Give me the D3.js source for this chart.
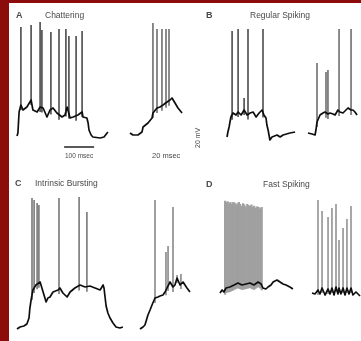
<!DOCTYPE html>
<html>
<head>
<meta charset="utf-8">
<script src="https://cdn.jsdelivr.net/npm/d3@7"></script>
<style>
  body { margin: 0; background: #fff; }
  text { font-family: "Liberation Sans", Arial, sans-serif; fill: #4a4a4a; }
</style>
</head>
<body>
<script>
// panel labels and titles
var panelLetters = ["A", "B", "C", "D"];
var panelTitles = ["Chattering", "Regular Spiking", "Intrinsic Bursting", "Fast Spiking"];

// traces: baseline [ms, mV], spikes [ms, peak mV]
// slow traces 100 msec scale, fast traces 20 msec scale
var chatSlowBase = [[0,-72.4],[3,-70],[7,-53.2],[13,-47.6],[20,-51.6],[33,-49.2],[47,-43.6],[53,-51.6],[67,-53.2],[77,-49.2],[87,-50],[100,-57.2],[110,-51.6],[120,-50],[133,-54],[150,-57.2],[160,-55.6],[167,-49.2],[177,-58],[187,-57.2],[203,-55.6],[217,-53.2],[220,-57.2],[233,-58],[237,-62],[240,-67.6],[247,-71.6],[253,-73.2],[277,-74],[290,-73.2],[303,-69.2]];
var chatSlowSpikes = [[13,14.8],[47,16.4],[77,18.8],[83,12.4],[113,10.8],[140,13.2],[163,13.2],[173,7.6],[197,7.6],[217,11.6]];
var chatFastBase = [[0,-70],[2,-71.6],[5.3,-71.6],[8,-69.2],[8.7,-65.2],[12,-62],[14.7,-58],[15.3,-54],[18,-50],[20,-49.2],[22,-47.6],[24.7,-45.2],[26.7,-43.6],[28,-42],[30,-46],[32,-50],[34.7,-54]];
var chatFastSpikes = [[15.3,18],[18,13.2],[21.3,13.2],[24,13.2],[26,13.2]];

var regSlowBase = [[0,-73.2],[3,-69.2],[7,-65.2],[13,-57.2],[20,-54],[30,-55.6],[37,-53.2],[47,-55.6],[57,-51.6],[67,-55.6],[77,-54],[87,-53.2],[97,-57.2],[107,-54],[117,-51.6],[123,-55.6],[130,-58],[133,-63.6],[137,-67.6],[143,-75.6],[150,-73.2],[167,-71.6],[177,-73.2],[187,-71.6],[210,-70],[227,-69.2]];
var regSlowSpikes = [[17,11.6],[37,13.2],[57,-42],[70,13.2],[120,13.2]];
var regFastBase = [[0,-70],[2.7,-70.8],[4.7,-71.6],[5.3,-67.6],[6,-61.2],[8,-55.6],[10,-54],[11.3,-53.2],[13.3,-54.8],[14.7,-54],[16.7,-54.8],[18,-55.6],[20,-51.6],[21.3,-53.2],[23.3,-54],[25.3,-51.6],[26.7,-50],[28.7,-51.6],[30,-51.6],[31.3,-53.2],[32.7,-55.6]];
var regFastSpikes = [[6,-14],[12,-21.2],[13.3,-19.6],[20.7,13.2],[28.7,13.2]];

var burstSlowBase = [[0,-71.6],[10,-70],[23,-69.2],[33,-67.6],[40,-62.8],[43,-54.8],[47,-48.4],[53,-40.4],[63,-36.4],[77,-34],[87,-42],[97,-50],[103,-46.8],[110,-46],[120,-42],[137,-40.4],[143,-38.8],[153,-42.8],[167,-46],[177,-42],[193,-38.8],[210,-36.4],[227,-38],[243,-37.2],[260,-38.8],[277,-40.4],[287,-36.4],[290,-38.8],[297,-53.2],[303,-58.8],[310,-62.8],[320,-66.8],[330,-70],[343,-70.8],[353,-70]];
var burstSlowSpikes = [[50,33.2],[57,31.6],[67,29.2],[73,27.6],[140,33.2],[207,34],[233,22]];
var burstFastBase = [[0,-71.6],[2,-70],[3.3,-68.4],[5.3,-60.4],[6.7,-56.4],[8,-52.4],[10,-46.8],[12,-46],[13.3,-45.2],[15.3,-44.4],[16.7,-42],[18,-38.8],[20,-34],[22,-38],[23.3,-36.4],[24.7,-30.8],[26.7,-36.4],[28.7,-34],[30,-36.4],[31.3,-38.8],[33.3,-42]];
var burstFastSpikes = [[10,31.6],[17.3,-10],[18.7,-5.2],[22,26],[24.7,-28.4],[27.3,-27.6]];

var fastSlowBase = [[0,-70.8],[7,-68.4],[13,-70],[20,-66.8],[33,-66],[47,-64.4],[60,-62.8],[73,-64.4],[87,-63.6],[100,-62.8],[113,-64.4],[127,-62],[137,-63.6],[143,-66.8],[153,-67.6],[160,-66],[170,-64.4],[177,-62],[190,-60.4],[200,-62],[210,-63.6],[220,-64.4],[233,-66],[243,-67.6]];
var fastSlowSpikes = [[17,3],[21,2],[26,2.5],[31,1],[35,2],[40,0.5],[44,2],[49,1.5],[54,0],[58,1],[63,2],[67,0.5],[72,-1],[77,1],[81,0],[86,-1.5],[91,0.5],[95,-0.5],[100,-1],[105,0],[109,-2],[114,-1],[119,-2.5],[124,-1.5],[129,-2],[134,-3],[139,-2]];
var fastFastBase = [[0,-70.8],[2,-71.6],[4,-68.4],[5.3,-71.6],[6.7,-66.8],[8.7,-72.4],[10.7,-67.6],[12,-71.6],[13.3,-66.8],[14.7,-72.4],[16,-66],[17.3,-71.6],[18,-66.8],[19.3,-71.6],[20.7,-66.8],[22,-72.4],[23.3,-66.8],[24.7,-71.6],[26,-66.8],[27.3,-72.4],[29.3,-70],[30.7,-71.6],[32,-73.2]];
var fastFastSpikes = [[4,3.6],[6.7,-5.2],[10.7,-10],[13.3,-2.8],[16,0.4],[18,-28.4],[20.7,-18.8],[23.3,-11.6],[26,-1.2]];

var W = 361, H = 341;

var svg = d3.select("body").append("svg")
    .attr("width", W)
    .attr("height", H);

svg.append("rect").attr("width", W).attr("height", H).attr("fill", "#fff");

// soft blur, the scan is not sharp
var blur = svg.append("defs").append("filter").attr("id", "soft")
  .attr("x", "-5%").attr("y", "-5%").attr("width", "110%").attr("height", "110%");
blur.append("feGaussianBlur").attr("stdDeviation", 0.45);

var content = svg.append("g").attr("filter", "url(#soft)");

// dark red frame on the left and top
svg.append("rect").attr("x", 0).attr("y", 0).attr("width", 9).attr("height", H).attr("fill", "#8c0b0b");
svg.append("rect").attr("x", 0).attr("y", 0).attr("width", W).attr("height", 3).attr("fill", "#8c0b0b");

var tSlow = d3.scaleLinear().domain([0, 100]).range([0, 30]);
var tFast = d3.scaleLinear().domain([0, 20]).range([0, 30]);
var v = d3.scaleLinear().domain([-70, 10]).range([0, -100]);

function baseAt(base, t) {
  var i = d3.bisector(function(d) { return d[0]; }).right(base, t);
  if (i <= 0) return base[0][1];
  if (i >= base.length) return base[base.length - 1][1];
  var a = base[i - 1], b = base[i];
  return a[1] + (b[1] - a[1]) * (t - a[0]) / (b[0] - a[0]);
}

function drawTrace(x0, y0, tScale, base, spikes, spikeColor, spikeWidth) {
  var g = content.append("g").attr("transform", "translate(" + x0 + "," + y0 + ")");
  g.selectAll("line").data(spikes).enter().append("line")
    .attr("x1", function(d) { return tScale(d[0]); })
    .attr("x2", function(d) { return tScale(d[0]); })
    .attr("y1", function(d) { return v(baseAt(base, d[0]) - 4); })
    .attr("y2", function(d) { return v(d[1]); })
    .attr("stroke", spikeColor)
    .attr("stroke-width", spikeWidth);
  var line = d3.line()
    .x(function(d) { return tScale(d[0]); })
    .y(function(d) { return v(d[1]); });
  g.append("path").datum(base)
    .attr("d", line)
    .attr("fill", "none")
    .attr("stroke", "#111")
    .attr("stroke-width", 1.7)
    .attr("stroke-linejoin", "round");
}

drawTrace(17, 133, tSlow, chatSlowBase, chatSlowSpikes, "#555", 1.7);
drawTrace(130, 133, tFast, chatFastBase, chatFastSpikes, "#777", 1.7);
drawTrace(227, 133, tSlow, regSlowBase, regSlowSpikes, "#555", 1.7);
drawTrace(308, 133, tFast, regFastBase, regFastSpikes, "#777", 1.7);
drawTrace(17, 327, tSlow, burstSlowBase, burstSlowSpikes, "#777", 1.6);
drawTrace(140, 327, tFast, burstFastBase, burstFastSpikes, "#888", 1.6);
drawTrace(220, 292, tSlow, fastSlowBase, fastSlowSpikes, "#a0a0a0", 2.2);
drawTrace(312, 292, tFast, fastFastBase, fastFastSpikes, "#999", 1.7);

// panel letters and titles
var labelPos = [[16, 18, 45], [206, 18, 250], [15, 186, 35], [206, 187, 263]];
panelLetters.forEach(function(l, i) {
  content.append("text").attr("x", labelPos[i][0]).attr("y", labelPos[i][1])
    .attr("font-size", 9).attr("font-weight", "bold").text(l);
  content.append("text").attr("x", labelPos[i][2]).attr("y", labelPos[i][1])
    .attr("font-size", 8.5).text(panelTitles[i]);
});

// scale bars
content.append("line").attr("x1", 17 + tSlow(157)).attr("x2", 17 + tSlow(257))
  .attr("y1", 147).attr("y2", 147).attr("stroke", "#222").attr("stroke-width", 1.5);
content.append("text").attr("x", 65).attr("y", 158).attr("font-size", 6.5).text("100 msec");
content.append("text").attr("x", 152).attr("y", 158).attr("font-size", 7.5).text("20 msec");
content.append("text").attr("transform", "translate(200,148) rotate(-90)")
  .attr("font-size", 7).text("20 mV");
</script>
</body>
</html>
